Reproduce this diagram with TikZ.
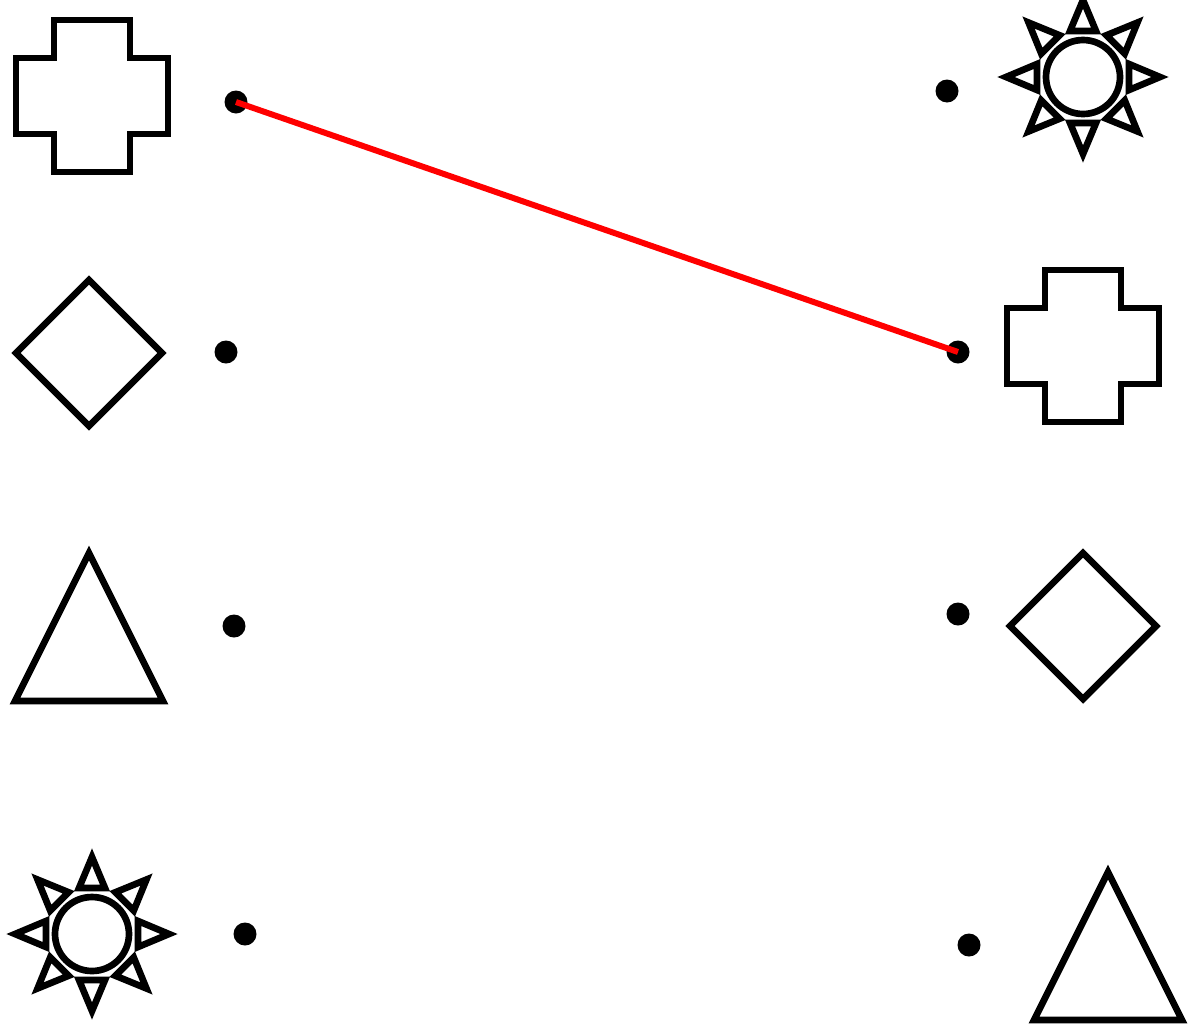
\documentclass[tikz,border=0pt]{standalone}
\usepackage{xcolor}
\usetikzlibrary{arrows.meta, positioning, shapes.geometric}

\tikzset{
  crossshape/.pic={
    \draw (-38,-76) -- (38,-76) -- (38,-38) -- (76,-38) -- (76,38) -- (38,38)
      -- (38,76) -- (-38,76) -- (-38,38) -- (-76,38) -- (-76,-38) -- (-38,-38) -- cycle;
  },
  diamondshape/.pic={
    \draw (0,-73) -- (73,0) -- (0,73) -- (-73,0) -- cycle;
  },
  triangleshape/.pic={
    \draw (0,-74) -- (74,74) -- (-74,74) -- cycle;
  },
  sunshape/.pic={
    \draw (0,0) circle[radius=37];
    \foreach \a in {0,45,...,315}
      \draw[rotate=\a] (0,77) -- (13,46) -- (-13,46) -- cycle;
  }
}

\begin{document}
\begin{tikzpicture}[x=0.02cm, y=-0.02cm, line width=3.8pt,
  dot/.style={circle, fill=black, inner sep=0pt, minimum size=0.46cm}]
  \useasboundingbox (0,0) rectangle (1193,1032);
  % Left column
  \pic at (92,96) {crossshape};
  \pic at (89,353) {diamondshape};
  \pic at (89,627) {triangleshape};
  \pic at (92,934) {sunshape};
  % Right column
  \pic at (1083,77) {sunshape};
  \pic at (1083,346) {crossshape};
  \pic at (1083,626) {diamondshape};
  \pic at (1108,946) {triangleshape};
  % Dots
  \foreach \n/\xpos/\ypos in {l1/236/102, l2/226/352, l3/234/626, l4/245/934,
                              r1/947/91, r2/958/352, r3/958/614, r4/969/945} {
    \node[dot] (\n) at (\xpos,\ypos) {};
  }
  % Match
  \draw[red, line width=3.4pt] (l1.center) -- (r2.center);
\end{tikzpicture}
\end{document}
